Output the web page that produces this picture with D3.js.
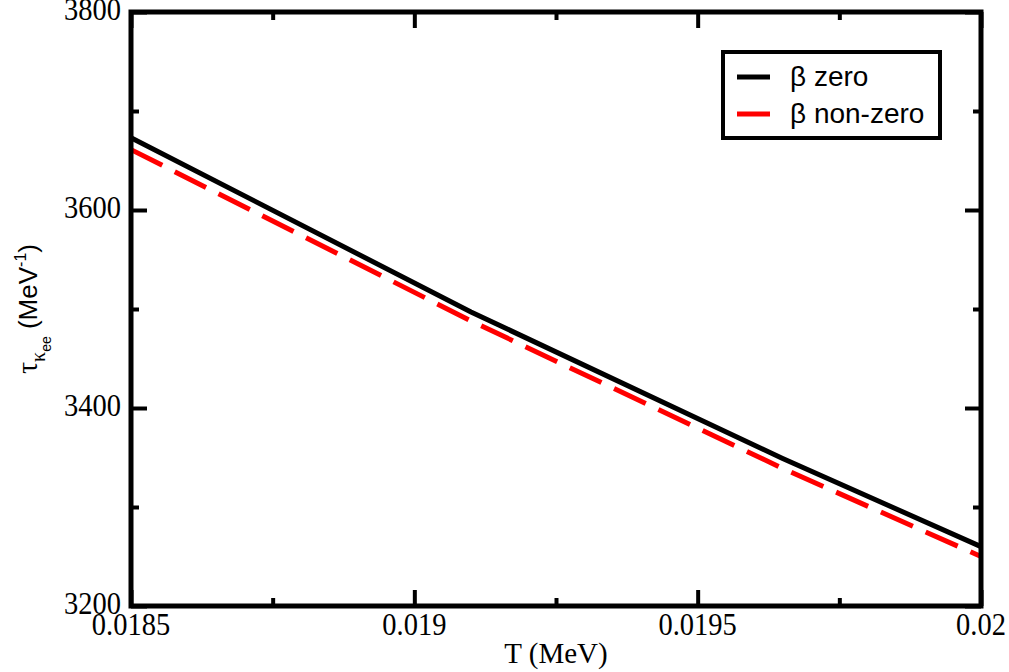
<!DOCTYPE html>
<html>
<head>
<meta charset="utf-8">
<script src="https://cdn.jsdelivr.net/npm/d3@7"></script>
<style>
  body { margin: 0; background: #fff; }
  svg { display: block; }
</style>
</head>
<body>
<svg id="chart"></svg>
<script>
// temperatures (MeV) and relaxation times
const temps = [0.0185, 0.0191, 0.01965, 0.02];
const betaZero = [3673, 3497, 3349, 3260];
const betaNonZero = [3661, 3488, 3339, 3250];

const xMajor = [0.0185, 0.019, 0.0195, 0.02];
const xMinor = [0.01875, 0.01925, 0.01975];
const xLabels = ["0.0185", "0.019", "0.0195", "0.02"];
const yMajor = [3200, 3400, 3600, 3800];
const yMinor = [3300, 3500, 3700];
const yLabels = ["3200", "3400", "3600", "3800"];

const svg = d3.select("#chart")
  .attr("width", 1009)
  .attr("height", 672);

const margin = { top: 12, right: 28, bottom: 66, left: 131 };
const width = 1009 - margin.left - margin.right;
const height = 672 - margin.top - margin.bottom;

const x = d3.scaleLinear().domain([0.0185, 0.02]).range([0, width]);
const y = d3.scaleLinear().domain([3200, 3800]).range([height, 0]);

const g = svg.append("g")
  .attr("transform", `translate(${margin.left},${margin.top})`);

const serif = "Liberation Serif";
const sans = "Liberation Sans";
const stretch = 1.1; // the original glyphs are a bit taller than wide

// ticks pointing inward, on all four sides; labels drawn separately
function tickAxis(axis, values, size, tx, ty) {
  g.append("g")
    .attr("transform", `translate(${tx},${ty})`)
    .call(axis.tickValues(values).tickSize(-size).tickFormat(""))
    .call(sel => sel.select(".domain").remove())
    .call(sel => sel.selectAll("line").attr("stroke", "#000").attr("stroke-width", 4));
}
tickAxis(d3.axisBottom(x), xMajor, 16, 0, height);
tickAxis(d3.axisBottom(x), xMinor, 8, 0, height);
tickAxis(d3.axisTop(x), xMajor, 16, 0, 0);
tickAxis(d3.axisTop(x), xMinor, 8, 0, 0);
tickAxis(d3.axisLeft(y), yMajor, 16, 0, 0);
tickAxis(d3.axisLeft(y), yMinor, 8, 0, 0);
tickAxis(d3.axisRight(y), yMajor, 16, width, 0);
tickAxis(d3.axisRight(y), yMinor, 8, width, 0);

// tick labels
g.selectAll(".xlab")
  .data(xMajor)
  .enter()
  .append("text")
  .attr("class", "xlab")
  .attr("transform", d => `translate(${x(d)},${height + 29}) scale(1,${stretch})`)
  .attr("text-anchor", "middle")
  .style("font-family", serif)
  .style("font-size", "28.5px")
  .text((d, i) => xLabels[i]);

g.selectAll(".ylab")
  .data(yMajor)
  .enter()
  .append("text")
  .attr("class", "ylab")
  .attr("transform", d => `translate(-10,${y(d) + 8}) scale(1,${stretch})`)
  .attr("text-anchor", "end")
  .style("font-family", serif)
  .style("font-size", "28.5px")
  .text((d, i) => yLabels[i]);

// data lines
const line = d3.line()
  .x((d, i) => x(temps[i]))
  .y(d => y(d));

g.append("path")
  .datum(betaZero)
  .attr("fill", "none")
  .attr("stroke", "#000")
  .attr("stroke-width", 5)
  .attr("d", line);

g.append("path")
  .datum(betaNonZero)
  .attr("fill", "none")
  .attr("stroke", "#ff0000")
  .attr("stroke-width", 5)
  .attr("stroke-dasharray", "35,14")
  .attr("d", line);

// frame
g.append("rect")
  .attr("x", 0)
  .attr("y", 0)
  .attr("width", width)
  .attr("height", height)
  .attr("fill", "none")
  .attr("stroke", "#000")
  .attr("stroke-width", 5);

// x-axis title
svg.append("text")
  .attr("transform", `translate(${margin.left + width / 2},663) scale(1,1.05)`)
  .attr("text-anchor", "middle")
  .style("font-family", serif)
  .style("font-size", "29px")
  .text("T (MeV)");

// y-axis title
const yTitle = svg.append("text")
  .attr("transform", `translate(37,${margin.top + height / 2}) rotate(-90)`)
  .attr("text-anchor", "middle")
  .style("font-family", sans)
  .style("font-size", "26px");
yTitle.append("tspan").style("font-family", serif).style("font-size", "30px").text("τ");
yTitle.append("tspan").style("font-family", serif).style("font-size", "20px").attr("dy", 8).text("κ");
yTitle.append("tspan").style("font-size", "14px").attr("dy", 6).text("ee");
yTitle.append("tspan").attr("dy", -14).text("\u00a0(MeV");
yTitle.append("tspan").style("font-size", "16px").attr("dy", -11).text("-1");
yTitle.append("tspan").attr("dy", 11).text(")");

// legend
const legend = svg.append("g");
legend.append("rect")
  .attr("x", 723)
  .attr("y", 52)
  .attr("width", 217)
  .attr("height", 86)
  .attr("fill", "#fff")
  .attr("stroke", "#000")
  .attr("stroke-width", 4);

const legendNames = ["β zero", "β non-zero"];
const legendColors = ["#000", "#ff0000"];
legendNames.forEach((name, i) => {
  const ly = 77 + i * 37;
  legend.append("line")
    .attr("x1", 737).attr("x2", 770)
    .attr("y1", ly).attr("y2", ly)
    .attr("stroke", legendColors[i])
    .attr("stroke-width", 5)
    .attr("stroke-dasharray", i === 1 ? "35,14" : null);
  legend.append("text")
    .attr("x", 790)
    .attr("y", ly + 9)
    .style("font-family", sans)
    .style("font-size", "28px")
    .text(name);
});
</script>
</body>
</html>
